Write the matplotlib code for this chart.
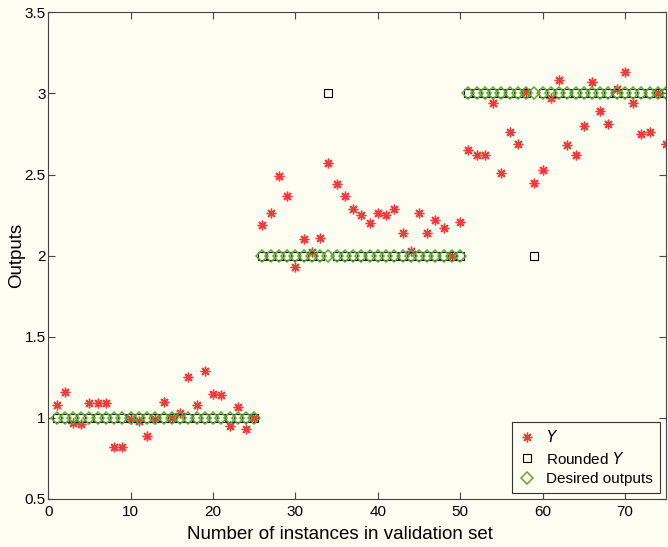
import numpy as np
import matplotlib
matplotlib.use("Agg")
import matplotlib.pyplot as plt

# valores
instancias = np.arange(1, 76)
Y = [1.08, 1.16, 0.97, 0.96, 1.09, 1.09, 1.09, 0.82, 0.82, 0.99,
     0.98, 0.89, 0.99, 1.10, 1.00, 1.03, 1.25, 1.08, 1.29, 1.15,
     1.14, 0.95, 1.07, 0.93, 1.00,
     2.19, 2.26, 2.49, 2.37, 1.93, 2.10, 2.02, 2.11, 2.57, 2.44,
     2.37, 2.29, 2.25, 2.20, 2.26, 2.25, 2.29, 2.14, 2.03, 2.26,
     2.14, 2.22, 2.17, 2.00, 2.21,
     2.65, 2.62, 2.62, 2.94, 2.51, 2.76, 2.69, 3.01, 2.45, 2.53,
     2.97, 3.08, 2.68, 2.62, 2.80, 3.07, 2.89, 2.81, 3.03, 3.13,
     2.94, 2.75, 2.76, 3.00, 2.69]
deseado = [1] * 25 + [2] * 25 + [3] * 25
redondeado = np.floor(np.array(Y) + 0.5)

fondo = '#fdfdf1'
plt.rcParams['font.family'] = ['Liberation Sans', 'DejaVu Sans']

fig = plt.figure(figsize=(6.68, 5.47), dpi=100, facecolor=fondo)
ax = fig.add_axes([0.0723, 0.0878, 0.9249, 0.8897], facecolor=fondo)

ax.plot(instancias, Y, linestyle='none', marker=(8, 2, 0), markersize=7,
        color='#f23a3a', markeredgewidth=1.0, label='$\\it{Y}$')
ax.plot(instancias, redondeado, linestyle='none', marker='s', markersize=5.5,
        markerfacecolor='none', markeredgecolor='black', markeredgewidth=0.8,
        label='Rounded $\\it{Y}$')
ax.plot(instancias, deseado, linestyle='none', marker='D', markersize=6,
        markerfacecolor='none', markeredgecolor='#62a834', markeredgewidth=1.1,
        label='Desired outputs')

ax.set_xlim(0, 75)
ax.set_ylim(0.5, 3.5)
ax.set_xticks(np.arange(0, 80, 10))
ax.set_yticks(np.arange(0.5, 3.6, 0.5))
ax.set_yticklabels(['0.5', '1', '1.5', '2', '2.5', '3', '3.5'])
ax.tick_params(direction='in', top=True, right=True, labelsize=11, length=5,
               color='#444444')
ax.tick_params(axis='x', pad=4)
ax.tick_params(axis='y', pad=2)
for s in ax.spines.values():
    s.set_color('#444444')
ax.set_xlabel('Number of instances in validation set', fontsize=13.5)
ax.set_ylabel('Outputs', fontsize=13.5)
ax.xaxis.set_label_coords(0.472, -0.055)
ax.yaxis.set_label_coords(-0.038, 0.5)

leg = ax.legend(loc='lower right', fontsize=11, frameon=True, fancybox=False,
                edgecolor='#333333', facecolor=fondo, framealpha=1,
                borderaxespad=0.4, handlelength=1.0, handletextpad=0.8,
                labelspacing=0.35, borderpad=0.45)
leg.get_frame().set_linewidth(0.8)

fig.savefig('out.png', dpi=100, facecolor=fondo)
